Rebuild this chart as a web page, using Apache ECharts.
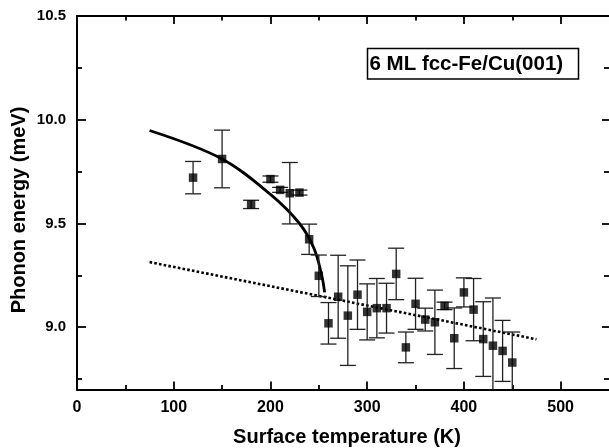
<!DOCTYPE html>
<html>
<head>
<meta charset="utf-8">
<title>Phonon energy vs surface temperature</title>
<script src="https://cdn.jsdelivr.net/npm/echarts@6/dist/echarts.min.js"></script>
<style>
html, body { margin: 0; padding: 0; background: #fff; }
#chart { width: 609px; height: 448px; }
</style>
</head>
<body>
<div id="chart"></div>
<script>
// measured points: temperature (K), phonon energy (meV), error (meV)
var temps = [120, 150, 180, 200, 210, 220, 230, 240, 250, 260, 270, 280, 290, 300, 310,
  320, 330, 340, 350, 360, 370, 380, 390, 400, 410, 420, 430, 440, 450];
var energy = [9.721, 9.811, 9.592, 9.714, 9.662, 9.646, 9.649, 9.424, 9.248, 9.019, 9.147,
  9.056, 9.157, 9.074, 9.092, 9.092, 9.257, 8.903, 9.113, 9.037, 9.024, 9.103, 8.947,
  9.168, 9.085, 8.943, 8.911, 8.886, 8.830];
var errors = [0.078, 0.139, 0.02, 0.015, 0.012, 0.148, 0.012, 0.073, 0.10, 0.10, 0.20,
  0.24, 0.167, 0.135, 0.143, 0.12, 0.124, 0.074, 0.123, 0.055, 0.155, 0.018, 0.146,
  0.07, 0.15, 0.18, 0.23, 0.147, 0.147];

// solid curve
var fitT = [75, 150, 200, 230, 245, 253, 256];
var fitE = [9.948, 9.811, 9.64, 9.50, 9.38, 9.25, 9.168];

// dotted straight line
var lineT = [75, 475];
var lineE = [9.314, 8.942];

// axes
var xRange = [0, 550];
var yRange = [8.7, 10.5];
var xMajor = [0, 100, 200, 300, 400, 500];
var xMinor = [50, 150, 250, 350, 450];
var yMajor = [9.0, 9.5, 10.0, 10.5];
var yMinor = [8.75, 9.25, 9.75, 10.25];

var xTitle = "Surface temperature (K)";
var yTitle = "Phonon energy (meV)";
var sampleName = "6 ML fcc-Fe/Cu(001)";

var FONT = '"Liberation Sans", Arial, Helvetica, sans-serif';

function pairs(a, b) {
  return a.map(function (v, i) { return [v, b[i]]; });
}

// one axis per tick set, all stacked on the same grid
function xAx(pos, ticks, len, showLine, showLabel) {
  return {
    type: "value", position: pos, min: xRange[0], max: xRange[1],
    axisLine: { show: showLine, onZero: false, lineStyle: { color: "#000", width: 2 } },
    axisTick: { inside: true, length: len, customValues: ticks, lineStyle: { color: "#000", width: 1.8 } },
    axisLabel: {
      show: showLabel, customValues: ticks, margin: 10, color: "#000",
      fontSize: 16, fontWeight: "bold", fontFamily: FONT
    },
    splitLine: { show: false }
  };
}
function yAx(pos, ticks, len, showLine, showLabel) {
  return {
    type: "value", position: pos, min: yRange[0], max: yRange[1],
    axisLine: { show: showLine, onZero: false, lineStyle: { color: "#000", width: 2 } },
    axisTick: { inside: true, length: len, customValues: ticks, lineStyle: { color: "#000", width: 1.8 } },
    axisLabel: {
      show: showLabel, customValues: ticks, margin: 11, color: "#000",
      fontSize: 15, fontWeight: "bold", fontFamily: FONT,
      formatter: function (v) { return v.toFixed(1); }
    },
    splitLine: { show: false }
  };
}

var chart = echarts.init(document.getElementById("chart"));
chart.setOption({
  animation: false,
  backgroundColor: "#fff",
  grid: { left: 77, right: 0, top: 16, bottom: 58.5 },
  xAxis: [
    xAx("bottom", xMajor, 8, true, true),
    xAx("bottom", xMinor, 4.5, false, false),
    xAx("top", xMajor, 8, true, false),
    xAx("top", xMinor, 4.5, false, false)
  ],
  yAxis: [
    yAx("left", yMajor, 9, true, true),
    yAx("left", yMinor, 5, false, false),
    yAx("right", yMajor, 7, false, false),
    yAx("right", yMinor, 5, false, false)
  ],
  graphic: [
    {
      type: "text", x: 347, y: 437.5,
      style: {
        text: xTitle, fill: "#000", font: "bold 20px " + FONT,
        align: "center", verticalAlign: "middle",
        textAlign: "center", textVerticalAlign: "middle"
      }
    },
    {
      type: "text", x: 19.5, y: 210, rotation: Math.PI / 2,
      style: {
        text: yTitle, fill: "#000", font: "bold 20px " + FONT,
        align: "center", verticalAlign: "middle",
        textAlign: "center", textVerticalAlign: "middle"
      }
    },
    {
      type: "group", x: 367.5, y: 48.5,
      children: [
        {
          type: "rect", shape: { x: 0, y: 0, width: 211, height: 30.5 },
          style: { fill: "#fff", stroke: "#000", lineWidth: 1.5 }
        },
        {
          type: "text", x: 2, y: 16,
          style: {
            text: sampleName, fill: "#000", font: "bold 20.5px " + FONT,
            align: "left", verticalAlign: "middle",
            textAlign: "left", textVerticalAlign: "middle"
          }
        }
      ]
    }
  ],
  series: [
    {
      name: "dotted",
      type: "line",
      data: pairs(lineT, lineE),
      showSymbol: false,
      lineStyle: { color: "#000", width: 2.6, type: [2.6, 2.2], cap: "butt" },
      z: 2
    },
    {
      name: "fit",
      type: "line",
      data: pairs(fitT, fitE),
      smooth: 0.35,
      showSymbol: false,
      lineStyle: { color: "#000", width: 2.8 },
      z: 2
    },
    {
      name: "error bars",
      type: "custom",
      data: temps.map(function (t, i) { return [t, energy[i], errors[i]]; }),
      encode: { x: 0, y: 1 },
      z: 3,
      renderItem: function (params, api) {
        var t = api.value(0), e = api.value(1), d = api.value(2);
        var cs = params.coordSys;
        var top = api.coord([t, e + d]);
        var bot = api.coord([t, e - d]);
        var floorY = cs.y + cs.height;
        var clipped = bot[1] > floorY;
        var yb = clipped ? floorY : bot[1];
        var st = { stroke: "#222", lineWidth: 1.3 };
        var kids = [
          { type: "line", shape: { x1: top[0], y1: top[1], x2: top[0], y2: yb }, style: st },
          { type: "line", shape: { x1: top[0] - 8, y1: top[1], x2: top[0] + 8, y2: top[1] }, style: st }
        ];
        if (!clipped) {
          kids.push({ type: "line", shape: { x1: bot[0] - 8, y1: bot[1], x2: bot[0] + 8, y2: bot[1] }, style: st });
        }
        return { type: "group", children: kids };
      }
    },
    {
      name: "data",
      type: "scatter",
      data: pairs(temps, energy),
      symbol: "rect",
      symbolSize: 8.5,
      itemStyle: { color: "#000" },
      z: 4
    }
  ]
});
</script>
</body>
</html>
